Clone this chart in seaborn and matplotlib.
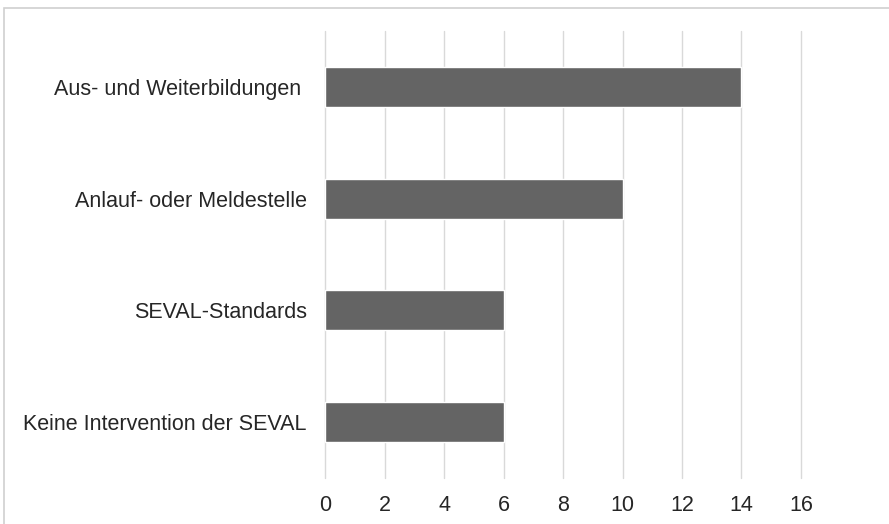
import matplotlib
matplotlib.use("Agg")
import matplotlib.pyplot as plt
import seaborn as sns
import pandas as pd
from matplotlib.patches import Rectangle

categories = ["Aus- und Weiterbildungen ", "Anlauf- oder Meldestelle", "SEVAL-Standards", "Keine Intervention der SEVAL"]
values = [14, 10, 6, 6]
x_ticks = [0, 2, 4, 6, 8, 10, 12, 14, 16]

df = pd.DataFrame({"category": categories, "value": values})

sns.set_theme(style="white")
plt.rcParams["font.family"] = ["Liberation Sans", "DejaVu Sans"]

fig = plt.figure(figsize=(8.89, 5.24), dpi=100)
ax = fig.add_axes([0.3656, 0.0878, 0.5354, 0.853])

sns.barplot(data=df, x="value", y="category", color="#646464", width=0.36,
            saturation=1, ax=ax, zorder=3)

ax.set_xlim(0, 16)
ax.set_xticks(x_ticks)
ax.set_xticklabels([str(t) for t in x_ticks])
ax.grid(axis="x", color="#d9d9d9", linewidth=1, zorder=0)
ax.grid(axis="y", visible=False)
for line in ax.get_xgridlines():
    line.set_clip_on(False)
for s in ax.spines.values():
    s.set_visible(False)
ax.tick_params(axis="x", length=0, pad=12, labelsize=15.5, labelcolor="#262626")
ax.tick_params(axis="y", length=0, pad=13, labelsize=15.5, labelcolor="#262626")
ax.set_xlabel("")
ax.set_ylabel("")

# outer chart frame (cropped at right and bottom)
fig.patches.append(Rectangle((4 / 889, -0.05), 1.1, 1 - 8 / 524 + 0.05,
                             transform=fig.transFigure, fill=False,
                             edgecolor="#d0d0d0", linewidth=1.2))

plt.savefig("out.png", dpi=100)
plt.close()
